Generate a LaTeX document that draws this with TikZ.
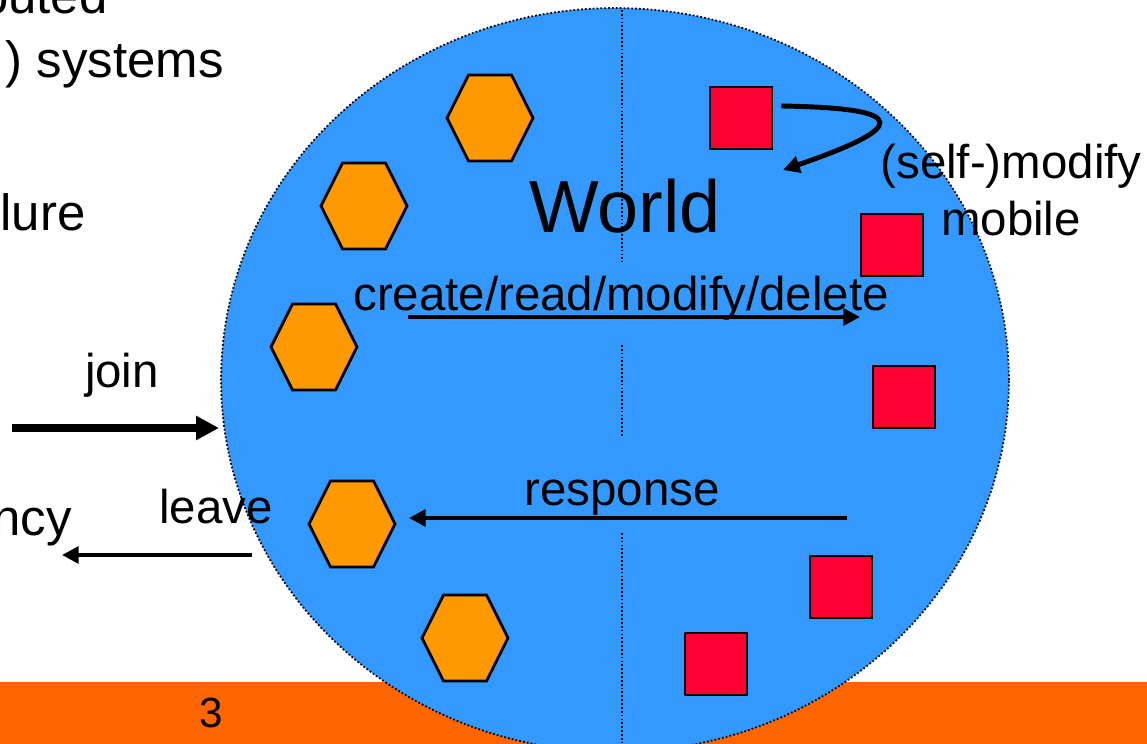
\documentclass[tikz,border=0pt]{standalone}
\usepackage{fontspec}
\setmainfont{Liberation Sans}
\usetikzlibrary{arrows.meta}
\definecolor{worldblue}{HTML}{3399FF}
\definecolor{hexorange}{HTML}{FF9900}
\definecolor{boxred}{HTML}{FF0033}
\definecolor{barorange}{HTML}{FF6600}
\newcommand{\lblfont}{\fontsize{27}{32}\selectfont}
\newcommand{\bulletfont}{\fontsize{29}{34}\selectfont}

\begin{document}
\begin{tikzpicture}[x=0.02cm,y=-0.02cm,
  hex/.style={draw=black,line width=1.6pt,fill=hexorange,line join=miter},
  agent/.style={draw=black,line width=1.6pt,fill=boxred,minimum size=1.24cm,inner sep=0pt},
  lbl/.style={font=\lblfont,inner sep=0pt,anchor=base},
  flow/.style={line width=2.8pt,-{Triangle[length=9.5pt,width=9.5pt]}},
  divider/.style={black,dash pattern=on 1pt off 1.2pt,line width=1pt}]
  \useasboundingbox (0,0) rectangle (1147,744);
  \clip (0,0) rectangle (1147,744);

  % left-hand bullet text, runs off the edge
  \node[font=\bulletfont,inner sep=0pt,anchor=base east] (txt1) at (108,13) {buted};
  \node[font=\bulletfont,inner sep=0pt,anchor=base east] (txt2) at (224,77) {) systems};
  \node[font=\bulletfont,inner sep=0pt,anchor=base east] (txt3) at (86,230) {lure};
  \node[font=\bulletfont,inner sep=0pt,anchor=base east] (txt4) at (72,535) {ncy};

  % footer bar
  \fill[barorange] (0,682) rectangle (1147,744);
  \node[font=\fontsize{24}{28}\selectfont,inner sep=0pt,anchor=base] (pagenum) at (211,727) {3};

  % the world
  \filldraw[fill=worldblue,draw=black,dash pattern=on 1pt off 1.2pt,line width=1pt]
    (615,380) ellipse (7.88cm and 7.44cm);
  \draw[divider] (622,10) -- (622,262);
  \draw[divider] (622,345) -- (622,437);
  \draw[divider] (622,533) -- (622,750);
  \node[font=\fontsize{42}{48}\selectfont,inner sep=0pt,anchor=base] (world) at (625,232) {World};

  % processes and objects
  \foreach \cx/\cy in {490/118,364/206,314/347,352/524,465/638}
    \draw[hex] (\cx-43,\cy) -- ++(21.5,-43) -- ++(43,0) -- ++(21.5,43)
      -- ++(-21.5,43) -- ++(-43,0) -- cycle;
  \node[agent] (sq1) at (741,118) {};
  \node[agent] (sq2) at (892,245) {};
  \node[agent] (sq3) at (904,397) {};
  \node[agent] (sq4) at (841,587) {};
  \node[agent] (sq5) at (716,664) {};

  % operations
  \coordinate (crud-s) at (408,317);
  \coordinate (crud-e) at (860,317);
  \coordinate (resp-s) at (847,518);
  \coordinate (resp-e) at (409,518);
  \coordinate (join-s) at (12,428);
  \coordinate (join-e) at (219,428);
  \coordinate (leave-s) at (252,555);
  \coordinate (leave-e) at (62,555);
  \coordinate (self-e) at (783,170);

  \node[lbl] (crud) at (621,310) {create/read/modify/delete};
  \draw[flow] (crud-s) -- (crud-e);
  \node[lbl] (resp) at (622,505) {response};
  \draw[flow] (resp-s) -- (resp-e);

  \node[lbl] (join) at (122,387) {join};
  \draw[line width=4.5pt,-{Triangle[length=13pt,width=13pt]}] (join-s) -- (join-e);
  \node[lbl] (leave) at (216,523) {leave};
  \draw[flow] (leave-s) -- (leave-e);

  \draw[flow] ([shift={(8,-12)}]sq1.east) .. controls (915,108) and (905,128) .. (self-e);
  \node[lbl] (selfmod) at (1011,178) {(self-)modify};
  \node[lbl] (mobile) at (1011,235) {mobile};
\end{tikzpicture}
\end{document}
